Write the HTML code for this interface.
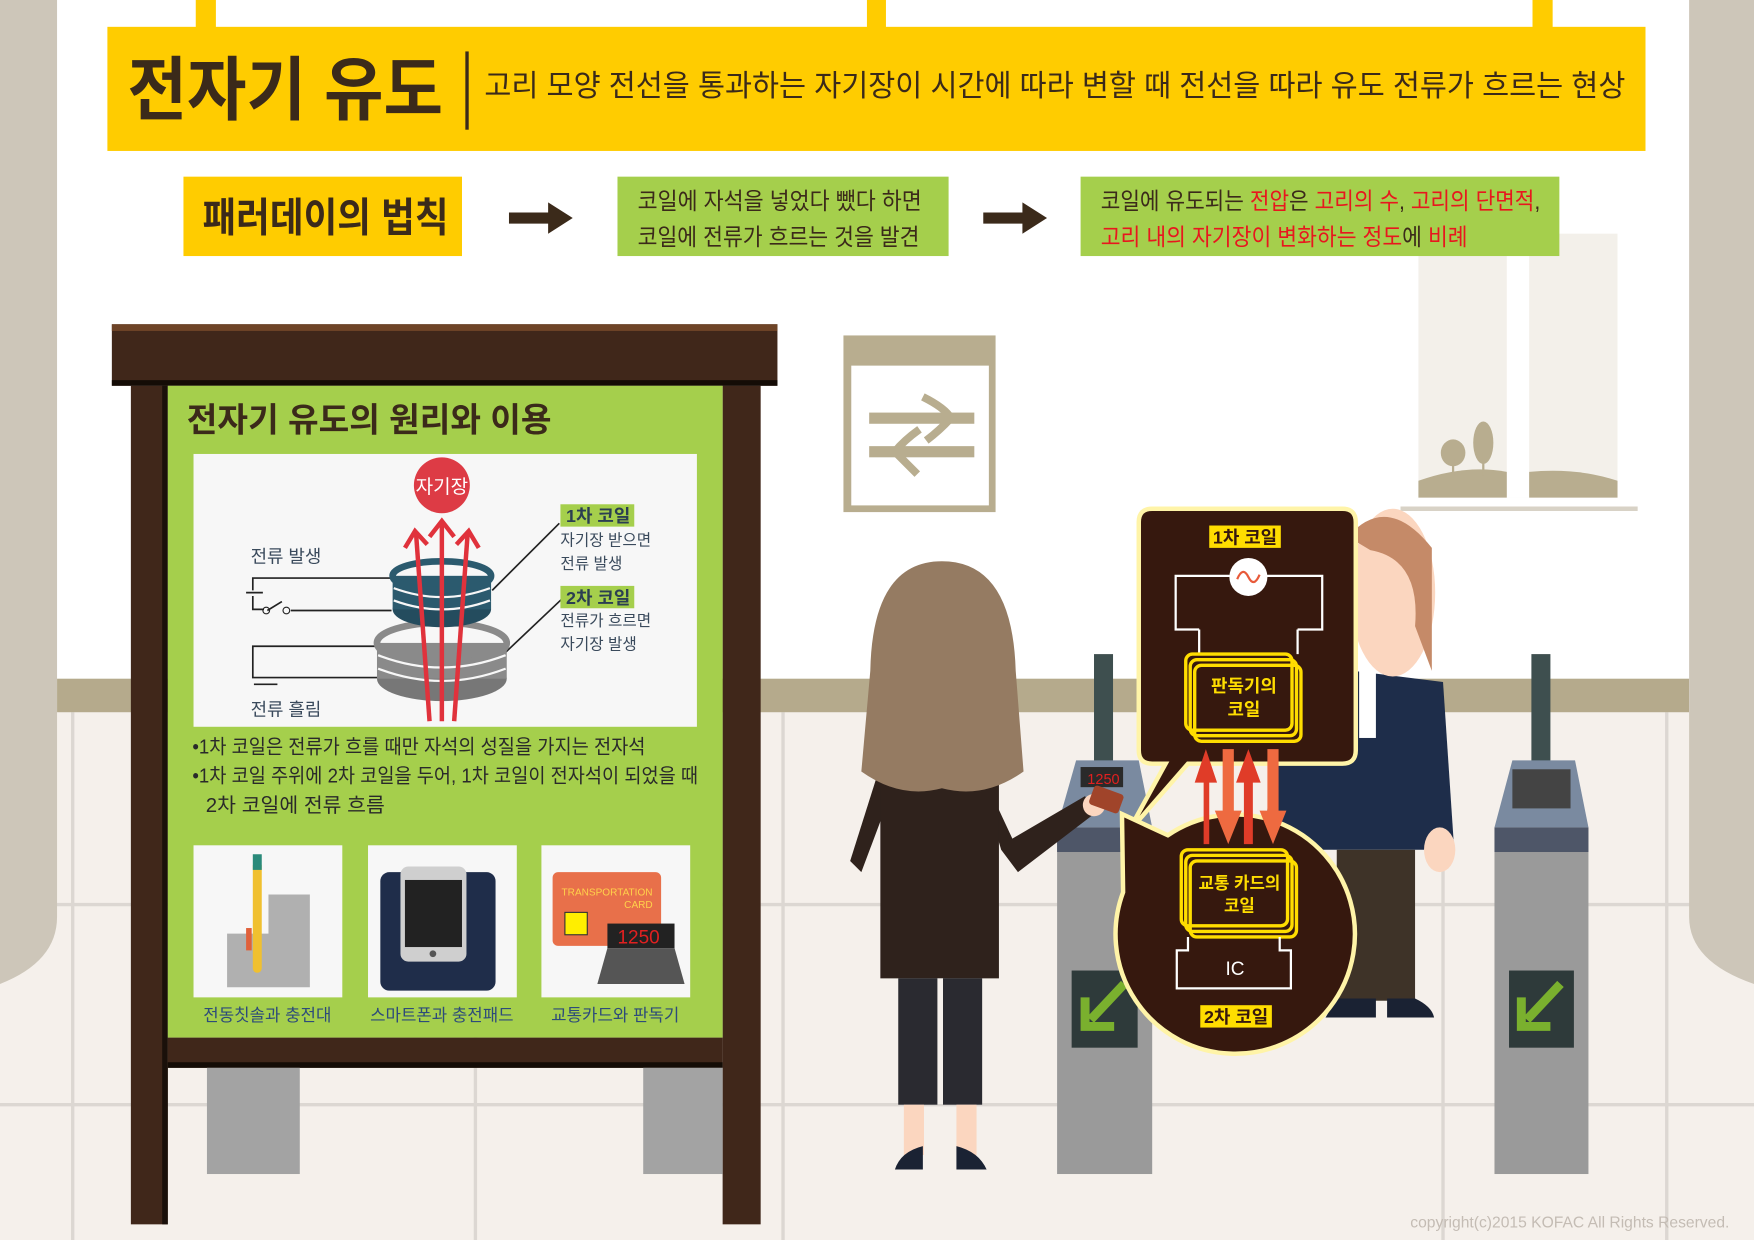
<!DOCTYPE html>
<html><head><meta charset="utf-8">
<style>
html,body{margin:0;padding:0;background:#fff;}
svg{display:block;}
text{font-family:"Liberation Sans","Noto Sans CJK KR",sans-serif;}
</style></head>
<body>
<svg width="1754" height="1240" viewBox="0 0 1568 1109" preserveAspectRatio="none" xmlns="http://www.w3.org/2000/svg">
<rect x="0" y="0" width="1568" height="1109" fill="#ffffff"/>
<rect x="0" y="637" width="1568" height="472" fill="#f5f0eb"/>
<g stroke="#dcd7d2" stroke-width="3">
<line x1="0" y1="809" x2="1568" y2="809"/>
<line x1="0" y1="988" x2="1568" y2="988"/>
<line x1="65" y1="637" x2="65" y2="1109"/>
<line x1="425" y1="637" x2="425" y2="1109"/>
<line x1="1490" y1="637" x2="1490" y2="1109"/>
<line x1="1290" y1="637" x2="1290" y2="1109"/>
<line x1="700" y1="637" x2="700" y2="1109"/>
</g>
<rect x="51" y="607" width="1459" height="30" fill="#b5aa8c"/>
<path d="M0 0 H51 V820 Q51 860 0 880 Z" fill="#cdc6b9"/>
<path d="M1568 0 H1510 V820 Q1510 860 1568 880 Z" fill="#cdc6b9"/>
<!-- window -->
<rect x="1268" y="209" width="178" height="236" fill="#f3f0ea"/>
<rect x="1347" y="209" width="20" height="236" fill="#ffffff"/>
<path d="M1268 430 Q1310 415 1347 422 V445 H1268 Z" fill="#b8ad8f"/>
<path d="M1367 422 Q1410 418 1446 430 V445 H1367 Z" fill="#b8ad8f"/>
<ellipse cx="1299" cy="405" rx="11" ry="12" fill="#b8ad8f"/><rect x="1298" y="410" width="2" height="16" fill="#b8ad8f"/>
<ellipse cx="1326" cy="396" rx="9" ry="19" fill="#b8ad8f"/><rect x="1325" y="405" width="2" height="20" fill="#b8ad8f"/>
<rect x="1252" y="453" width="212" height="4" fill="#d8d2c6"/>
<!-- hanging sign -->
<rect x="175" y="0" width="18" height="26" fill="#ffcc00"/>
<rect x="775" y="0" width="17" height="26" fill="#ffcc00"/>
<rect x="1370" y="0" width="18" height="26" fill="#ffcc00"/>
<rect x="96" y="24" width="1375" height="111" fill="#ffcc00"/>
<text x="114" y="102" font-size="62" font-weight="bold" fill="#3b2a1a" textLength="282" lengthAdjust="spacingAndGlyphs">전자기 유도</text>
<rect x="416" y="46" width="3" height="70" fill="#3b2a1a"/>
<text x="433" y="86" font-size="27" fill="#3b2a1a" textLength="1020" lengthAdjust="spacingAndGlyphs">고리 모양 전선을 통과하는 자기장이 시간에 따라 변할 때 전선을 따라 유도 전류가 흐르는 현상</text>
<!-- row 2 -->
<rect x="164" y="158" width="249" height="71" fill="#ffcc00"/>
<text x="181" y="207" font-size="36" font-weight="bold" fill="#3b2a1a" textLength="220" lengthAdjust="spacingAndGlyphs">패러데이의 법칙</text>
<path d="M455 190 H490 V181 L512 195 L490 209 V200 H455 Z" fill="#3b2a1a"/>
<rect x="552" y="158" width="296" height="71" fill="#a5cf4c"/>
<text x="570" y="187" font-size="21" fill="#3b2a1a" textLength="254" lengthAdjust="spacingAndGlyphs">코일에 자석을 넣었다 뺐다 하면</text>
<text x="570" y="219" font-size="21" fill="#3b2a1a" textLength="252" lengthAdjust="spacingAndGlyphs">코일에 전류가 흐르는 것을 발견</text>
<path d="M879 190 H914 V181 L936 195 L914 209 V200 H879 Z" fill="#3b2a1a"/>
<rect x="966" y="158" width="428" height="71" fill="#a5cf4c"/>
<text x="984" y="187" font-size="21" fill="#3b2a1a" textLength="393" lengthAdjust="spacingAndGlyphs">코일에 유도되는 <tspan fill="#e8171e">전압</tspan>은 <tspan fill="#e8171e">고리의 수</tspan>, <tspan fill="#e8171e">고리의 단면적</tspan>,</text>
<text x="984" y="219" font-size="21" fill="#e8171e" textLength="328" lengthAdjust="spacingAndGlyphs">고리 내의 자기장이 변화하는 정도<tspan fill="#3b2a1a">에</tspan> 비례</text>
<!-- exit sign -->
<rect x="754" y="300" width="136" height="158" fill="#b8ad8f"/>
<rect x="761" y="327" width="123" height="125" fill="#ffffff"/>
<rect x="777" y="369" width="94" height="10" fill="#b8ad8f"/>
<rect x="777" y="399" width="94" height="10" fill="#b8ad8f"/>
<path d="M825 355 Q845 365 850 374 Q840 385 828 394" fill="none" stroke="#b8ad8f" stroke-width="7"/>
<path d="M822 384 Q808 394 800 404 Q810 414 820 424" fill="none" stroke="#b8ad8f" stroke-width="7"/>
<!-- board -->
<rect x="117" y="345" width="33" height="750" fill="#40271a"/>
<rect x="646" y="345" width="34" height="750" fill="#40271a"/>
<rect x="145" y="345" width="5" height="750" fill="#1a100a"/>
<rect x="100" y="290" width="595" height="55" fill="#40271a"/>
<rect x="100" y="290" width="595" height="6" fill="#6e4427"/>
<rect x="100" y="340" width="595" height="5" fill="#140c06"/>
<rect x="150" y="345" width="496" height="583" fill="#a5cf4c"/>
<rect x="150" y="928" width="496" height="27" fill="#40271a"/>
<rect x="150" y="950" width="496" height="5" fill="#140c06"/>
<rect x="185" y="955" width="83" height="95" fill="#a3a3a3"/>
<rect x="575" y="955" width="71" height="95" fill="#a3a3a3"/>
<text x="167" y="386" font-size="30" font-weight="bold" fill="#3b2a1a" textLength="326" lengthAdjust="spacingAndGlyphs">전자기 유도의 원리와 이용</text>
<rect x="173" y="406" width="450" height="244" fill="#f7f7f7"/>
<circle cx="395" cy="434" r="25" fill="#dd3b45"/>
<text x="395" y="441" font-size="17" fill="#fff" text-anchor="middle">자기장</text>
<g stroke="#222" stroke-width="1.5" fill="none">
<path d="M350 517 H226 V528"/><path d="M220 530 H235"/><path d="M226 533 V545 H236"/><path d="M239 546 L252 538"/><path d="M260 546 H350"/>
<path d="M340 578 H226 V606 H340"/>
<path d="M440 528 L500 468"/><path d="M445 590 L502 536"/>
</g>
<circle cx="238" cy="546" r="3" fill="none" stroke="#222"/><circle cx="256" cy="546" r="3" fill="none" stroke="#222"/>
<path d="M227 612 H248" stroke="#222" stroke-width="1.5"/>
<ellipse cx="395" cy="607" rx="58" ry="20" fill="#777"/>
<rect x="337" y="575" width="116" height="32" fill="#8a8a8a"/>
<ellipse cx="395" cy="575" rx="58" ry="18" fill="none" stroke="#8a8a8a" stroke-width="6"/>
<g stroke="#f7f7f7" stroke-width="2" fill="none">
<path d="M338 586 Q395 608 452 586"/><path d="M338 598 Q395 620 452 598"/>
</g>
<ellipse cx="395" cy="545" rx="44" ry="16" fill="#244c5e"/>
<rect x="351" y="515" width="88" height="30" fill="#2b5a6e"/>
<ellipse cx="395" cy="515" rx="44" ry="13" fill="none" stroke="#2b5a6e" stroke-width="6"/>
<g stroke="#f7f7f7" stroke-width="2" fill="none">
<path d="M352 526 Q395 542 438 526"/><path d="M352 537 Q395 553 438 537"/>
</g>
<g stroke="#e0323c" stroke-width="4" fill="none">
<path d="M395 645 V466"/><path d="M384 645 Q378 560 372 478"/><path d="M406 645 Q412 560 418 478"/>
<path d="M384 480 L395 466 L406 480"/><path d="M362 490 L371 475 L382 487"/><path d="M408 487 L419 475 L428 490"/>
</g>
<rect x="501" y="451" width="66" height="20" fill="#a5cf4c"/>
<text x="506" y="467" font-size="16" font-weight="bold" fill="#2b3e52">1차 코일</text>
<text x="501" y="488" font-size="14" fill="#3a4a5c">자기장 받으면</text>
<text x="501" y="509" font-size="14" fill="#3a4a5c">전류 발생</text>
<rect x="501" y="524" width="66" height="20" fill="#a5cf4c"/>
<text x="506" y="540" font-size="16" font-weight="bold" fill="#2b3e52">2차 코일</text>
<text x="501" y="560" font-size="14" fill="#3a4a5c">전류가 흐르면</text>
<text x="501" y="581" font-size="14" fill="#3a4a5c">자기장 발생</text>
<text x="224" y="503" font-size="16" fill="#3a4a5c">전류 발생</text>
<text x="224" y="640" font-size="16" fill="#3a4a5c">전류 흘림</text>
<text x="172" y="674" font-size="18" fill="#2a2a2a" textLength="405" lengthAdjust="spacingAndGlyphs">•1차 코일은 전류가 흐를 때만 자석의 성질을 가지는 전자석</text>
<text x="172" y="700" font-size="18" fill="#2a2a2a" textLength="452" lengthAdjust="spacingAndGlyphs">•1차 코일 주위에 2차 코일을 두어, 1차 코일이 전자석이 되었을 때</text>
<text x="184" y="726" font-size="18" fill="#2a2a2a" textLength="160" lengthAdjust="spacingAndGlyphs">2차 코일에 전류 흐름</text>
<rect x="173" y="756" width="133" height="136" fill="#f7f7f7"/>
<rect x="329" y="756" width="133" height="136" fill="#f7f7f7"/>
<rect x="484" y="756" width="133" height="136" fill="#f7f7f7"/>
<path d="M203 883 V835 H240 V800 H277 V883 Z" fill="#b0b0b0"/>
<rect x="226" y="770" width="8" height="100" rx="4" fill="#f0c030"/>
<rect x="226" y="764" width="8" height="14" fill="#2a8a7a"/>
<rect x="220" y="830" width="5" height="20" fill="#e0603a"/>
<rect x="340" y="780" width="103" height="106" rx="8" fill="#1f2d4a"/>
<rect x="358" y="775" width="59" height="85" rx="7" fill="#cfcfcf"/>
<rect x="362" y="787" width="51" height="60" fill="#222"/>
<circle cx="387" cy="853" r="3" fill="#555"/>
<rect x="494" y="780" width="97" height="66" rx="5" fill="#e8704a"/>
<text x="502" y="801" font-size="9" fill="#ffd24a">TRANSPORTATION</text>
<text x="558" y="812" font-size="9" fill="#ffd24a">CARD</text>
<rect x="505" y="816" width="20" height="20" fill="#ffee00" stroke="#333"/>
<rect x="543" y="826" width="60" height="22" fill="#222"/>
<text x="552" y="844" font-size="17" fill="#e02020">1250</text>
<path d="M543 848 H603 L612 880 H534 Z" fill="#555"/>
<text x="239" y="913" font-size="15" fill="#2d4b7a" text-anchor="middle">전동칫솔과 충전대</text>
<text x="395" y="913" font-size="15" fill="#2d4b7a" text-anchor="middle">스마트폰과 충전패드</text>
<text x="550" y="913" font-size="15" fill="#2d4b7a" text-anchor="middle">교통카드와 판독기</text>
<!-- gates -->
<rect x="978" y="585" width="17" height="100" fill="#3e4f4f"/>
<rect x="945" y="740" width="85" height="310" fill="#9a9a9a"/>
<path d="M962 680 H1018 L1030 740 H945 Z" fill="#7a8aa0"/>
<rect x="945" y="740" width="85" height="22" fill="#4e5668"/>
<rect x="966" y="686" width="38" height="18" fill="#2a2a2a"/>
<text x="972" y="701" font-size="13" fill="#e02020">1250</text>
<rect x="958" y="868" width="59" height="69" fill="#2e3a3a"/>
<path d="M1005 880 L975 912 M970 892 V918 H996" stroke="#7ab02e" stroke-width="8" fill="none"/>
<rect x="1369" y="585" width="17" height="100" fill="#3e4f4f"/>
<rect x="1336" y="740" width="84" height="310" fill="#9a9a9a"/>
<path d="M1352 680 H1408 L1420 740 H1336 Z" fill="#7a8aa0"/>
<rect x="1336" y="740" width="84" height="22" fill="#4e5668"/>
<rect x="1352" y="688" width="52" height="35" fill="#444"/>
<rect x="1349" y="868" width="58" height="69" fill="#2e3a3a"/>
<path d="M1395 880 L1365 912 M1360 892 V918 H1386" stroke="#7ab02e" stroke-width="8" fill="none"/>
<!-- man -->
<path d="M1210 600 L1140 640 L1130 760 H1300 L1290 610 Z" fill="#1e2d4a"/>
<rect x="1195" y="760" width="70" height="135" fill="#3e3328"/>
<path d="M1195 893 H1230 V910 H1185 Z" fill="#1a2233"/>
<path d="M1240 893 H1265 Q1280 900 1282 910 H1240 Z" fill="#1a2233"/>
<ellipse cx="1287" cy="760" rx="14" ry="20" fill="#fbd6bf"/>
<ellipse cx="1245" cy="530" rx="38" ry="75" fill="#fbd6bf"/>
<path d="M1205 480 Q1240 440 1280 490 L1280 600 L1265 560 Q1270 500 1225 492 Z" fill="#c58a68"/>
<rect x="1215" y="600" width="15" height="60" fill="#fff"/>
<!-- woman -->
<path d="M790 675 L760 770 L770 780 L800 700 Z" fill="#2f221c"/>
<path d="M870 675 L905 750 L970 712 L978 728 L910 780 L895 760 Z" fill="#2f221c"/>
<circle cx="978" cy="720" r="10" fill="#fbd6bf"/>
<rect x="787" y="668" width="106" height="207" fill="#2f221c"/>
<rect x="803" y="875" width="75" height="113" fill="#2a2a30"/>
<rect x="838" y="875" width="5" height="113" fill="#f5f0eb"/>
<rect x="808" y="988" width="18" height="45" fill="#fbd6bf"/>
<rect x="855" y="988" width="18" height="45" fill="#fbd6bf"/>
<path d="M800 1046 Q805 1030 825 1025 V1046 Z M855 1025 Q875 1030 882 1046 H855 Z" fill="#1a2233"/>
<path d="M842 502 Q905 502 908 600 L915 690 Q880 715 842 705 Q805 715 770 690 L778 600 Q780 502 842 502 Z" fill="#957b62"/>
<rect x="975" y="706" width="28" height="18" rx="3" fill="#a0442a" transform="rotate(20 989 715)"/>
<!-- speech bubbles -->
<g fill="#36180e" stroke="#fff4a8" stroke-width="4">
<path d="M1030 455 H1200 Q1212 455 1212 467 V671 Q1212 683 1200 683 H1062 L1008 745 L1042 683 H1030 Q1018 683 1018 671 V467 Q1018 455 1030 455 Z"/>
<path d="M1044 747 L1003 728 L1004 798 A107 107 0 1 0 1044 747 Z"/>
</g>
<rect x="1081" y="470" width="64" height="20" fill="#ffdd00"/>
<text x="1113" y="486" font-size="16" font-weight="bold" fill="#36180e" text-anchor="middle">1차 코일</text>
<path d="M1072 563 H1051 V515 H1182 V563 H1160" fill="none" stroke="#fff" stroke-width="2"/>
<circle cx="1116" cy="516" r="17" fill="#fff"/>
<path d="M1106 518 Q1111 506 1116 516 Q1121 526 1126 514" fill="none" stroke="#e85a3a" stroke-width="2"/>
<path d="M1072 563 V585 M1160 563 V585" stroke="#fff" stroke-width="2"/>
<g fill="none" stroke="#ffdd00" stroke-width="3">
<rect x="1060" y="585" width="95" height="68" rx="6"/><rect x="1064" y="590" width="95" height="68" rx="6"/><rect x="1068" y="595" width="95" height="68" rx="6"/>
</g>
<text x="1112" y="619" font-size="16" font-weight="bold" fill="#ffdd00" text-anchor="middle">판독기의</text>
<text x="1112" y="640" font-size="16" font-weight="bold" fill="#ffdd00" text-anchor="middle">코일</text>
<path d="M1076 755 V700 H1068 L1078 670 L1088 700 H1081 V755 Z" fill="#e03c28"/>
<path d="M1093 670 H1103 V725 H1110 L1098 755 L1086 725 H1093 Z" fill="#ee6a40"/>
<path d="M1112 755 V700 H1105 L1116 670 L1127 700 H1120 V755 Z" fill="#e03c28"/>
<path d="M1133 670 H1143 V725 H1150 L1138 755 L1126 725 H1133 Z" fill="#ee6a40"/>
<g fill="none" stroke="#ffdd00" stroke-width="3">
<rect x="1056" y="760" width="95" height="68" rx="6"/><rect x="1060" y="765" width="95" height="68" rx="6"/><rect x="1064" y="770" width="95" height="68" rx="6"/>
</g>
<text x="1108" y="795" font-size="15" font-weight="bold" fill="#ffdd00" text-anchor="middle">교통 카드의</text>
<text x="1108" y="815" font-size="15" font-weight="bold" fill="#ffdd00" text-anchor="middle">코일</text>
<path d="M1062 838 V850 H1052 V884 H1154 V850 H1144 V838" fill="none" stroke="#fff" stroke-width="2"/>
<text x="1104" y="872" font-size="17" fill="#fff" text-anchor="middle">IC</text>
<rect x="1073" y="899" width="64" height="20" fill="#ffdd00"/>
<text x="1105" y="915" font-size="16" font-weight="bold" fill="#36180e" text-anchor="middle">2차 코일</text>
<text x="1546" y="1098" font-size="14" fill="#c4bcb4" text-anchor="end">copyright(c)2015 KOFAC All Rights Reserved.</text>
</svg>
</body></html>
